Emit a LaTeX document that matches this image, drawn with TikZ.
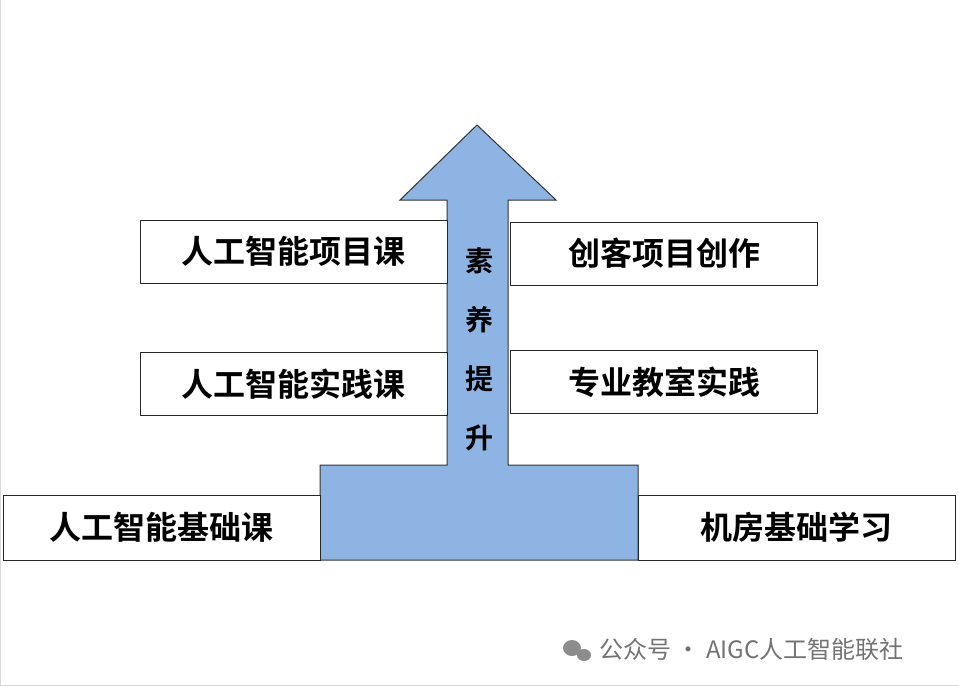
\documentclass[tikz,border=0pt]{standalone}
\usepackage{fontspec}
\newfontfamily\cjk{Noto Sans CJK SC}
\newfontfamily\cjkb{Noto Sans CJK SC Bold}
\begin{document}
\begin{tikzpicture}[x=1pt,y=-1pt,
  box/.style={draw=black!85,line width=1pt,fill=white,minimum width=307pt,minimum height=63pt,inner sep=0pt,font=\cjkb\fontsize{32}{34}\selectfont}]
\useasboundingbox (0,0) rectangle (959,686);
\fill[white] (0,0) rectangle (959,686);
\draw[black!15] (0.5,0) -- (0.5,685.5) -- (959,685.5);
\draw[black!80,line width=1pt,fill={rgb,255:red,141;green,180;blue,226}]
  (477,125) -- (556,200) -- (508,200) -- (508,465) -- (638,465) -- (638,560)
  -- (320,560) -- (320,465) -- (447,465) -- (447,200) -- (400,200) -- cycle;
\node[box] (a) at (293.5,251.5) {人工智能项目课};
\node[box] (b) at (664,253.5) {创客项目创作};
\node[box] (c) at (293.5,384) {人工智能实践课};
\node[box] (d) at (664,382) {专业教室实践};
\node[box,minimum width=317pt,minimum height=65pt] (e) at (161.5,527.5) {人工智能基础课};
\node[box,minimum width=317pt,minimum height=65pt] (f) at (796.5,527.5) {机房基础学习};
\node[font=\cjkb\fontsize{28}{59}\selectfont,align=center] (t) at (479,349) {素\\养\\提\\升};
\fill[black!45] (572,648) ellipse (9 and 8);
\fill[black!45] (584,655) ellipse (7 and 6);
\node[anchor=west,text=black!55,font=\cjk\fontsize{24}{26}\selectfont] (w) at (596,649) {公众号 · AIGC人工智能联社};
\end{tikzpicture}
\end{document}
